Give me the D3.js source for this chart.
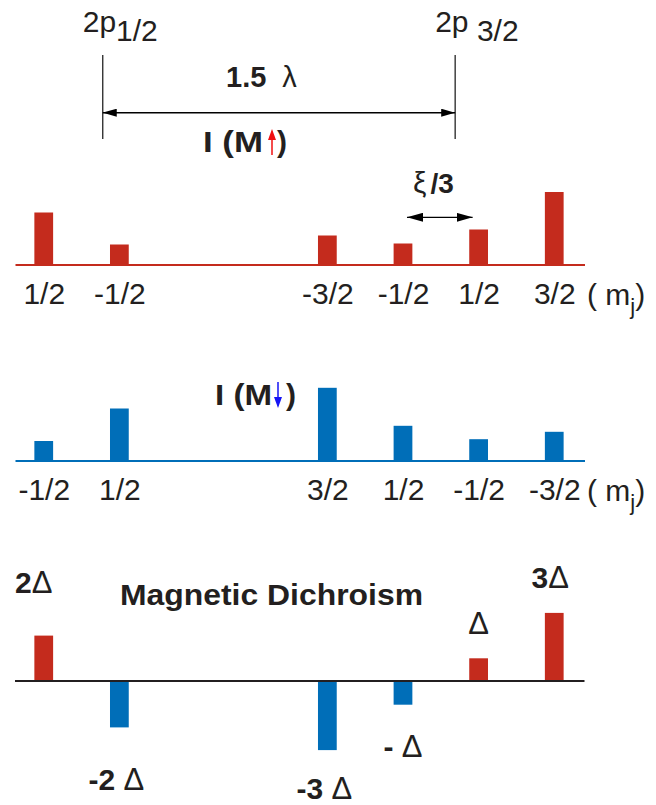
<!DOCTYPE html>
<html>
<head>
<meta charset="utf-8">
<script src="https://cdn.jsdelivr.net/npm/d3@7"></script>
<style>
  html, body { margin: 0; padding: 0; background: #fff; }
  svg { display: block; }
  text { font-family: "Liberation Sans", Arial, Helvetica, sans-serif; fill: #231f20; }
</style>
</head>
<body>
<svg id="chart" width="656" height="805"></svg>
<script>
// Final-state levels, positioned in units of the ξ/3 splitting
const levelX = [0, 1, 3.75, 4.75, 5.75, 6.75];
const upLabels = ["1/2", "-1/2", "-3/2", "-1/2", "1/2", "3/2"];
const downLabels = ["-1/2", "1/2", "3/2", "1/2", "-1/2", "-3/2"];
// Absorption intensities for magnetisation up / down (arb. units)
const intensityUp = [5.2, 2.0, 2.9, 2.1, 3.5, 7.25];
const intensityDown = [1.95, 5.2, 7.27, 3.47, 2.13, 2.87];
// Dichroic difference, in units of Δ
const dichroism = [2, -2, -3, -1, 1, 3];
const dichroNumber = ["2", "-2 ", "-3 ", "- ", "", "3"];
// Spin-orbit edges
const edgeX = [0.78, 5.44];
const edgeMain = ["2p", "2p "];
const edgeSub = ["1/2", "3/2"];

const RED = "#c42b1d";
const BLUE = "#006eb8";
const INK = "#231f20";

const svg = d3.select("#chart");

const x = d3.scaleLinear().domain([-0.38, 7.15]).range([15, 584.5]);
const barW = x(0.248) - x(0);

// arrowhead markers
const defs = svg.append("defs");
function marker(id, len, half) {
  defs.append("marker")
    .attr("id", id)
    .attr("viewBox", `0 0 ${len} ${half * 2}`)
    .attr("refX", len).attr("refY", half)
    .attr("markerUnits", "userSpaceOnUse")
    .attr("markerWidth", len).attr("markerHeight", half * 2)
    .attr("orient", "auto-start-reverse")
    .append("path")
    .attr("d", `M0,0L${len},${half}L0,${half * 2}Z`)
    .attr("fill", "#000");
}
marker("headL", 14, 4);
marker("headS", 16, 4.5);

// ---- spin-orbit splitting header ----
const edgeTop = 55, edgeBottom = 139, spanY = 112.7;
svg.selectAll("line.edge").data(edgeX).join("line")
  .attr("class", "edge")
  .attr("x1", d => x(d)).attr("x2", d => x(d))
  .attr("y1", edgeTop).attr("y2", edgeBottom)
  .attr("stroke", "#333").attr("stroke-width", 1.4);

svg.append("line")
  .attr("x1", x(edgeX[0])).attr("x2", x(edgeX[1]))
  .attr("y1", spanY).attr("y2", spanY)
  .attr("stroke", "#000").attr("stroke-width", 1.5)
  .attr("marker-start", "url(#headL)").attr("marker-end", "url(#headL)");

const edgeText = svg.selectAll("text.edgeName").data(edgeX).join("text")
  .attr("class", "edgeName")
  .attr("x", d => x(d) - 20)
  .attr("y", 32)
  .attr("font-size", 30);
edgeText.append("tspan").text((d, i) => edgeMain[i]);
edgeText.append("tspan").attr("dy", 9).text((d, i) => edgeSub[i]);

const so = svg.append("text").attr("x", 226).attr("y", 87);
so.append("tspan").attr("font-size", 29).attr("font-weight", "bold").text("1.5");
so.append("tspan").attr("dx", 16).attr("font-size", 29).text("λ");

// ---- polarity labels ----
function polarityLabel(x0, y0, colour, up, textW, arrowDx, parenDx) {
  const g = svg.append("g");
  g.append("text").attr("x", x0).attr("y", y0)
    .attr("font-size", 30).attr("font-weight", "bold")
    .attr("textLength", textW).attr("lengthAdjust", "spacingAndGlyphs")
    .text("I (M");
  const ax = x0 + arrowDx;
  const top = y0 - 23, bot = y0 + 3;
  g.append("line").attr("x1", ax).attr("x2", ax)
    .attr("y1", up ? top + 8 : top).attr("y2", up ? bot : bot - 8)
    .attr("stroke", colour).attr("stroke-width", 1.5);
  g.append("path")
    .attr("d", up
      ? `M${ax - 4},${top + 11}L${ax},${top}L${ax + 4},${top + 11}Z`
      : `M${ax - 4},${bot - 11}L${ax},${bot}L${ax + 4},${bot - 11}Z`)
    .attr("fill", colour);
  g.append("text").attr("x", x0 + parenDx).attr("y", y0)
    .attr("font-size", 30).attr("font-weight", "bold").text(")");
}

// ---- intensity panels ----
function panel(values, labels, base, colour) {
  const y = d3.scaleLinear().domain([0, 1]).range([base, base - 10]);
  const g = svg.append("g");
  g.selectAll("rect").data(values).join("rect")
    .attr("x", (d, i) => x(levelX[i]) - barW / 2)
    .attr("width", barW)
    .attr("y", d => y(d))
    .attr("height", d => y(0) - y(d) + 1)
    .attr("fill", colour);

  const axis = d3.axisBottom(x)
    .tickValues(levelX)
    .tickFormat((d, i) => labels[i])
    .tickSize(0)
    .tickSizeOuter(0)
    .tickPadding(18);
  const ag = svg.append("g")
    .attr("transform", `translate(0,${base})`)
    .call(axis)
    .attr("font-family", null).attr("font-size", null);
  ag.select(".domain").attr("stroke", colour).attr("stroke-width", 2);
  ag.selectAll(".tick text")
    .attr("font-size", 30)
    .attr("fill", INK);

  const mj = svg.append("text")
    .attr("x", 587).attr("y", base + 40)
    .attr("font-size", 30);
  mj.append("tspan").text("( m");
  mj.append("tspan").attr("font-size", 22).attr("dy", 9).text("j");
  mj.append("tspan").attr("dy", -9).text(")");
}

panel(intensityUp, upLabels, 264.5, RED);
polarityLabel(203, 152, "#f01010", true, 60, 69, 74);

// ξ/3 splitting marker
const xi = svg.append("text").attr("x", 413).attr("y", 193);
xi.append("tspan").attr("font-size", 30).text("ξ");
xi.append("tspan").attr("dx", 4).attr("font-size", 28).attr("font-weight", "bold").text("/3");
svg.append("line")
  .attr("x1", x(levelX[3]) + 4).attr("x2", x(levelX[4]) - 6)
  .attr("y1", 217.3).attr("y2", 217.3)
  .attr("stroke", "#000").attr("stroke-width", 1.3)
  .attr("marker-start", "url(#headS)").attr("marker-end", "url(#headS)");

panel(intensityDown, downLabels, 460.5, BLUE);
polarityLabel(215, 405, "#1515f5", false, 57, 63, 71);

// ---- magnetic dichroism ----
const dBase = 681;
const yd = d3.scaleLinear().domain([0, 1]).range([dBase, dBase - 22.7]);
svg.append("text")
  .attr("x", 120).attr("y", 605)
  .attr("font-size", 30).attr("font-weight", "bold")
  .attr("textLength", 303).attr("lengthAdjust", "spacingAndGlyphs")
  .text("Magnetic Dichroism");

svg.append("g").selectAll("rect").data(dichroism).join("rect")
  .attr("x", (d, i) => x(levelX[i]) - barW / 2)
  .attr("width", barW)
  .attr("y", d => Math.min(yd(d), yd(0)))
  .attr("height", d => Math.abs(yd(d) - yd(0)) + 1)
  .attr("fill", d => d > 0 ? RED : BLUE);

svg.append("line")
  .attr("x1", x.range()[0]).attr("x2", x.range()[1])
  .attr("y1", dBase).attr("y2", dBase)
  .attr("stroke", INK).attr("stroke-width", 2);

// value labels: baseline offset from the bar end, with small horizontal nudges
const labelGap = [42.6, 63.6, 50, 53.3, 24.3, 25];
const labelShift = [-10, -3, -3, 0, 0, -4];
const dl = svg.append("g").selectAll("text").data(dichroism).join("text")
  .attr("text-anchor", "middle")
  .attr("x", (d, i) => x(levelX[i]) + labelShift[i])
  .attr("y", (d, i) => d > 0 ? yd(d) - labelGap[i] : yd(d) + labelGap[i])
  .attr("font-size", 30);
dl.append("tspan").attr("font-weight", "bold").text((d, i) => dichroNumber[i]);
dl.append("tspan").attr("font-size", 31).text("Δ");
</script>
</body>
</html>
